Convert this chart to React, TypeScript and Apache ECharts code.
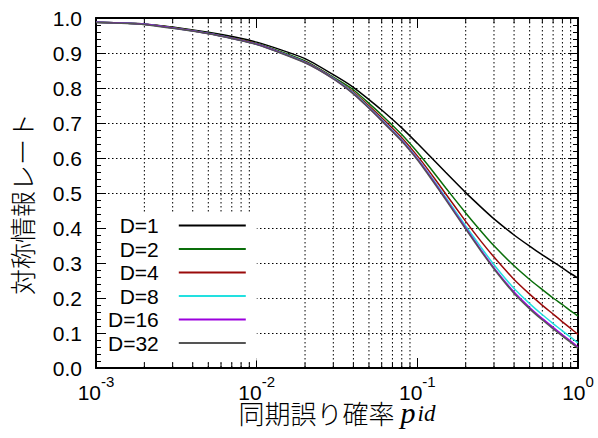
import React, { useEffect, useRef } from 'react';
import * as echarts from 'echarts';

// x values: synchronisation error probability p_id
const pid = [0.001, 0.002, 0.005, 0.01, 0.02, 0.03, 0.04, 0.05, 0.06, 0.08, 0.1, 0.12, 0.15, 0.2, 0.25, 0.3, 0.4, 0.5, 0.6, 0.7, 0.8, 0.9, 1.0];

const rateD1 = [0.988, 0.983, 0.959, 0.931, 0.884, 0.838, 0.802, 0.767, 0.737, 0.686, 0.642, 0.605, 0.559, 0.501, 0.459, 0.426, 0.380, 0.348, 0.323, 0.303, 0.286, 0.270, 0.257];
const rateD2 = [0.988, 0.982, 0.957, 0.927, 0.877, 0.831, 0.795, 0.756, 0.723, 0.667, 0.617, 0.572, 0.515, 0.443, 0.390, 0.349, 0.292, 0.253, 0.224, 0.200, 0.181, 0.163, 0.148];
const rateD4 = [0.988, 0.982, 0.956, 0.926, 0.875, 0.829, 0.789, 0.749, 0.715, 0.658, 0.606, 0.559, 0.498, 0.419, 0.361, 0.317, 0.253, 0.211, 0.179, 0.154, 0.132, 0.113, 0.096];
const rateD8 = [0.988, 0.982, 0.956, 0.925, 0.874, 0.828, 0.786, 0.745, 0.710, 0.652, 0.599, 0.551, 0.488, 0.406, 0.344, 0.295, 0.227, 0.184, 0.152, 0.127, 0.106, 0.088, 0.072];
const rateD16 = [0.988, 0.982, 0.956, 0.925, 0.873, 0.827, 0.784, 0.743, 0.708, 0.650, 0.597, 0.548, 0.484, 0.400, 0.336, 0.286, 0.217, 0.173, 0.141, 0.116, 0.095, 0.077, 0.060];
const rateD32 = [0.987, 0.981, 0.955, 0.924, 0.872, 0.826, 0.783, 0.742, 0.706, 0.648, 0.595, 0.545, 0.481, 0.397, 0.333, 0.283, 0.213, 0.169, 0.137, 0.112, 0.091, 0.073, 0.056];

const seriesNames = ['D=1', 'D=2', 'D=4', 'D=8', 'D=16', 'D=32'];
const seriesValues = [rateD1, rateD2, rateD4, rateD8, rateD16, rateD32];
const seriesColors = ['#000000', '#0a6e0a', '#9a0a0a', '#22e0e0', '#9b00dd', '#555555'];

// log-axis minor tick positions (2..9 per decade), where the dotted grid lines are
const xMinorTicks = [
  0.002, 0.003, 0.004, 0.005, 0.006, 0.007, 0.008, 0.009,
  0.02, 0.03, 0.04, 0.05, 0.06, 0.07, 0.08, 0.09,
  0.2, 0.3, 0.4, 0.5, 0.6, 0.7, 0.8, 0.9,
];

const xTitle = '同期誤り確率';
const yTitle = '対称情報レート';

const LATIN = '"Liberation Sans", Arial, Helvetica, sans-serif';
const CJK = '"Noto Sans CJK JP", "Noto Sans CJK SC", sans-serif';
const SERIF = '"Liberation Serif", "DejaVu Serif", serif';

export default function App() {
  const ref = useRef<HTMLDivElement>(null);

  useEffect(() => {
    if (!ref.current) return;
    const chart = echarts.init(ref.current, undefined, { renderer: 'svg' });

    const lineSeries = seriesNames.map((name, i) => ({
      name,
      type: 'line',
      xAxisIndex: 0,
      yAxisIndex: 0,
      data: pid.map((x, j) => [x, seriesValues[i][j]]),
      symbol: 'none',
      showSymbol: false,
      smooth: 0.2,
      lineStyle: { color: seriesColors[i], width: 1.5 },
      itemStyle: { color: seriesColors[i] },
      z: 3,
    }));

    const gridSeries = {
      name: 'minor-grid',
      type: 'custom',
      xAxisIndex: 0,
      yAxisIndex: 0,
      silent: true,
      z: 1,
      data: xMinorTicks.map((v) => [v, 0]),
      renderItem: (_params: any, api: any) => {
        const v = api.value(0);
        const top = api.coord([v, 1]);
        const bot = api.coord([v, 0]);
        return {
          type: 'group',
          children: [
            {
              type: 'line',
              shape: { x1: top[0], y1: top[1], x2: bot[0], y2: bot[1] },
              style: { stroke: '#000', lineWidth: 1, lineDash: [1.5, 2.5] },
            },
            {
              type: 'line',
              shape: { x1: bot[0], y1: bot[1], x2: bot[0], y2: bot[1] - 5 },
              style: { stroke: '#000', lineWidth: 1 },
            },
            {
              type: 'line',
              shape: { x1: top[0], y1: top[1], x2: top[0], y2: top[1] + 5 },
              style: { stroke: '#000', lineWidth: 1 },
            },
          ],
        };
      },
    };

    const axisLine = { show: true, onZero: false, lineStyle: { color: '#000', width: 2 } };

    chart.setOption({
      animation: false,
      backgroundColor: '#fff',
      grid: { left: 93, right: 20, top: 18, bottom: 70, containLabel: false },
      legend: {
        data: seriesNames.map((name, i) => ({ name, itemStyle: { color: seriesColors[i] } })),
        orient: 'vertical',
        align: 'right',
        icon: 'rect',
        left: 106,
        top: 213,
        padding: [2, 11, 7, 2],
        backgroundColor: '#fff',
        itemWidth: 67,
        itemHeight: 2,
        itemGap: 2.5,
        selectedMode: false,
        textStyle: {
          fontFamily: LATIN,
          fontSize: 21,
          lineHeight: 21,
          color: '#000',
          padding: [0, 15, 0, 0],
        },
        z: 4,
      },
      xAxis: [
        {
          type: 'log',
          logBase: 10,
          min: 0.001,
          max: 1,
          position: 'bottom',
          axisLine,
          axisTick: { show: true, inside: true, length: 10, lineStyle: { color: '#000', width: 1 } },
          splitLine: { show: false },
          axisLabel: {
            show: true,
            margin: 6,
            formatter: (v: number) => `{b|10}{e|${Math.round(Math.log10(v))}}`,
            rich: {
              b: { fontFamily: LATIN, fontSize: 21, color: '#000', lineHeight: 29, verticalAlign: 'bottom' },
              e: { fontFamily: LATIN, fontSize: 15, color: '#000', lineHeight: 15, verticalAlign: 'top' },
            },
          },
          name: `{a|${xTitle}}{p|p}{s|id}`,
          nameLocation: 'middle',
          nameGap: 31,
          nameMoveOverlap: false,
          nameTextStyle: {
            rich: {
              a: { fontFamily: CJK, fontSize: 26, fontWeight: 300, color: '#000', lineHeight: 26, verticalAlign: 'middle' },
              p: { fontFamily: SERIF, fontStyle: 'italic', fontSize: 30, color: '#000', lineHeight: 26, verticalAlign: 'middle', padding: [0, 0, 0, 6] },
              s: { fontFamily: SERIF, fontStyle: 'italic', fontSize: 23, color: '#000', lineHeight: 12, verticalAlign: 'bottom', padding: [0, 0, 0, 2] },
            },
          },
        },
        {
          type: 'log',
          logBase: 10,
          min: 0.001,
          max: 1,
          position: 'top',
          axisLine,
          axisTick: { show: true, inside: true, length: 10, lineStyle: { color: '#000', width: 1 } },
          splitLine: { show: false },
          axisLabel: { show: false },
        },
      ],
      yAxis: [
        {
          type: 'value',
          min: 0,
          max: 1,
          interval: 0.1,
          position: 'left',
          axisLine,
          axisTick: { show: true, inside: true, length: 10, lineStyle: { color: '#000', width: 1 } },
          minorTick: { show: true, splitNumber: 5, length: 5, lineStyle: { color: '#000', width: 1 } },
          splitLine: { show: true, lineStyle: { color: '#000', width: 1, type: [1.5, 2.5] } },
          axisLabel: {
            margin: 14,
            fontFamily: LATIN,
            fontSize: 21,
            color: '#000',
            formatter: (v: number) => v.toFixed(1),
          },
          name: yTitle,
          nameLocation: 'middle',
          nameRotate: 90,
          nameGap: 62,
          nameMoveOverlap: false,
          nameTextStyle: { fontFamily: CJK, fontSize: 26, fontWeight: 300, color: '#000', padding: [0, 22, 0, 0] },
        },
        {
          type: 'value',
          min: 0,
          max: 1,
          interval: 0.1,
          position: 'right',
          axisLine,
          axisTick: { show: true, inside: true, length: 10, lineStyle: { color: '#000', width: 1 } },
          minorTick: { show: true, splitNumber: 5, length: 5, lineStyle: { color: '#000', width: 1 } },
          splitLine: { show: false },
          axisLabel: { show: false },
        },
      ],
      series: [gridSeries, ...lineSeries],
    });

    return () => chart.dispose();
  }, []);

  return (
    <div
      ref={ref}
      style={{ position: 'absolute', left: 0, top: 0, width: 598, height: 438, background: '#fff' }}
    />
  );
}
